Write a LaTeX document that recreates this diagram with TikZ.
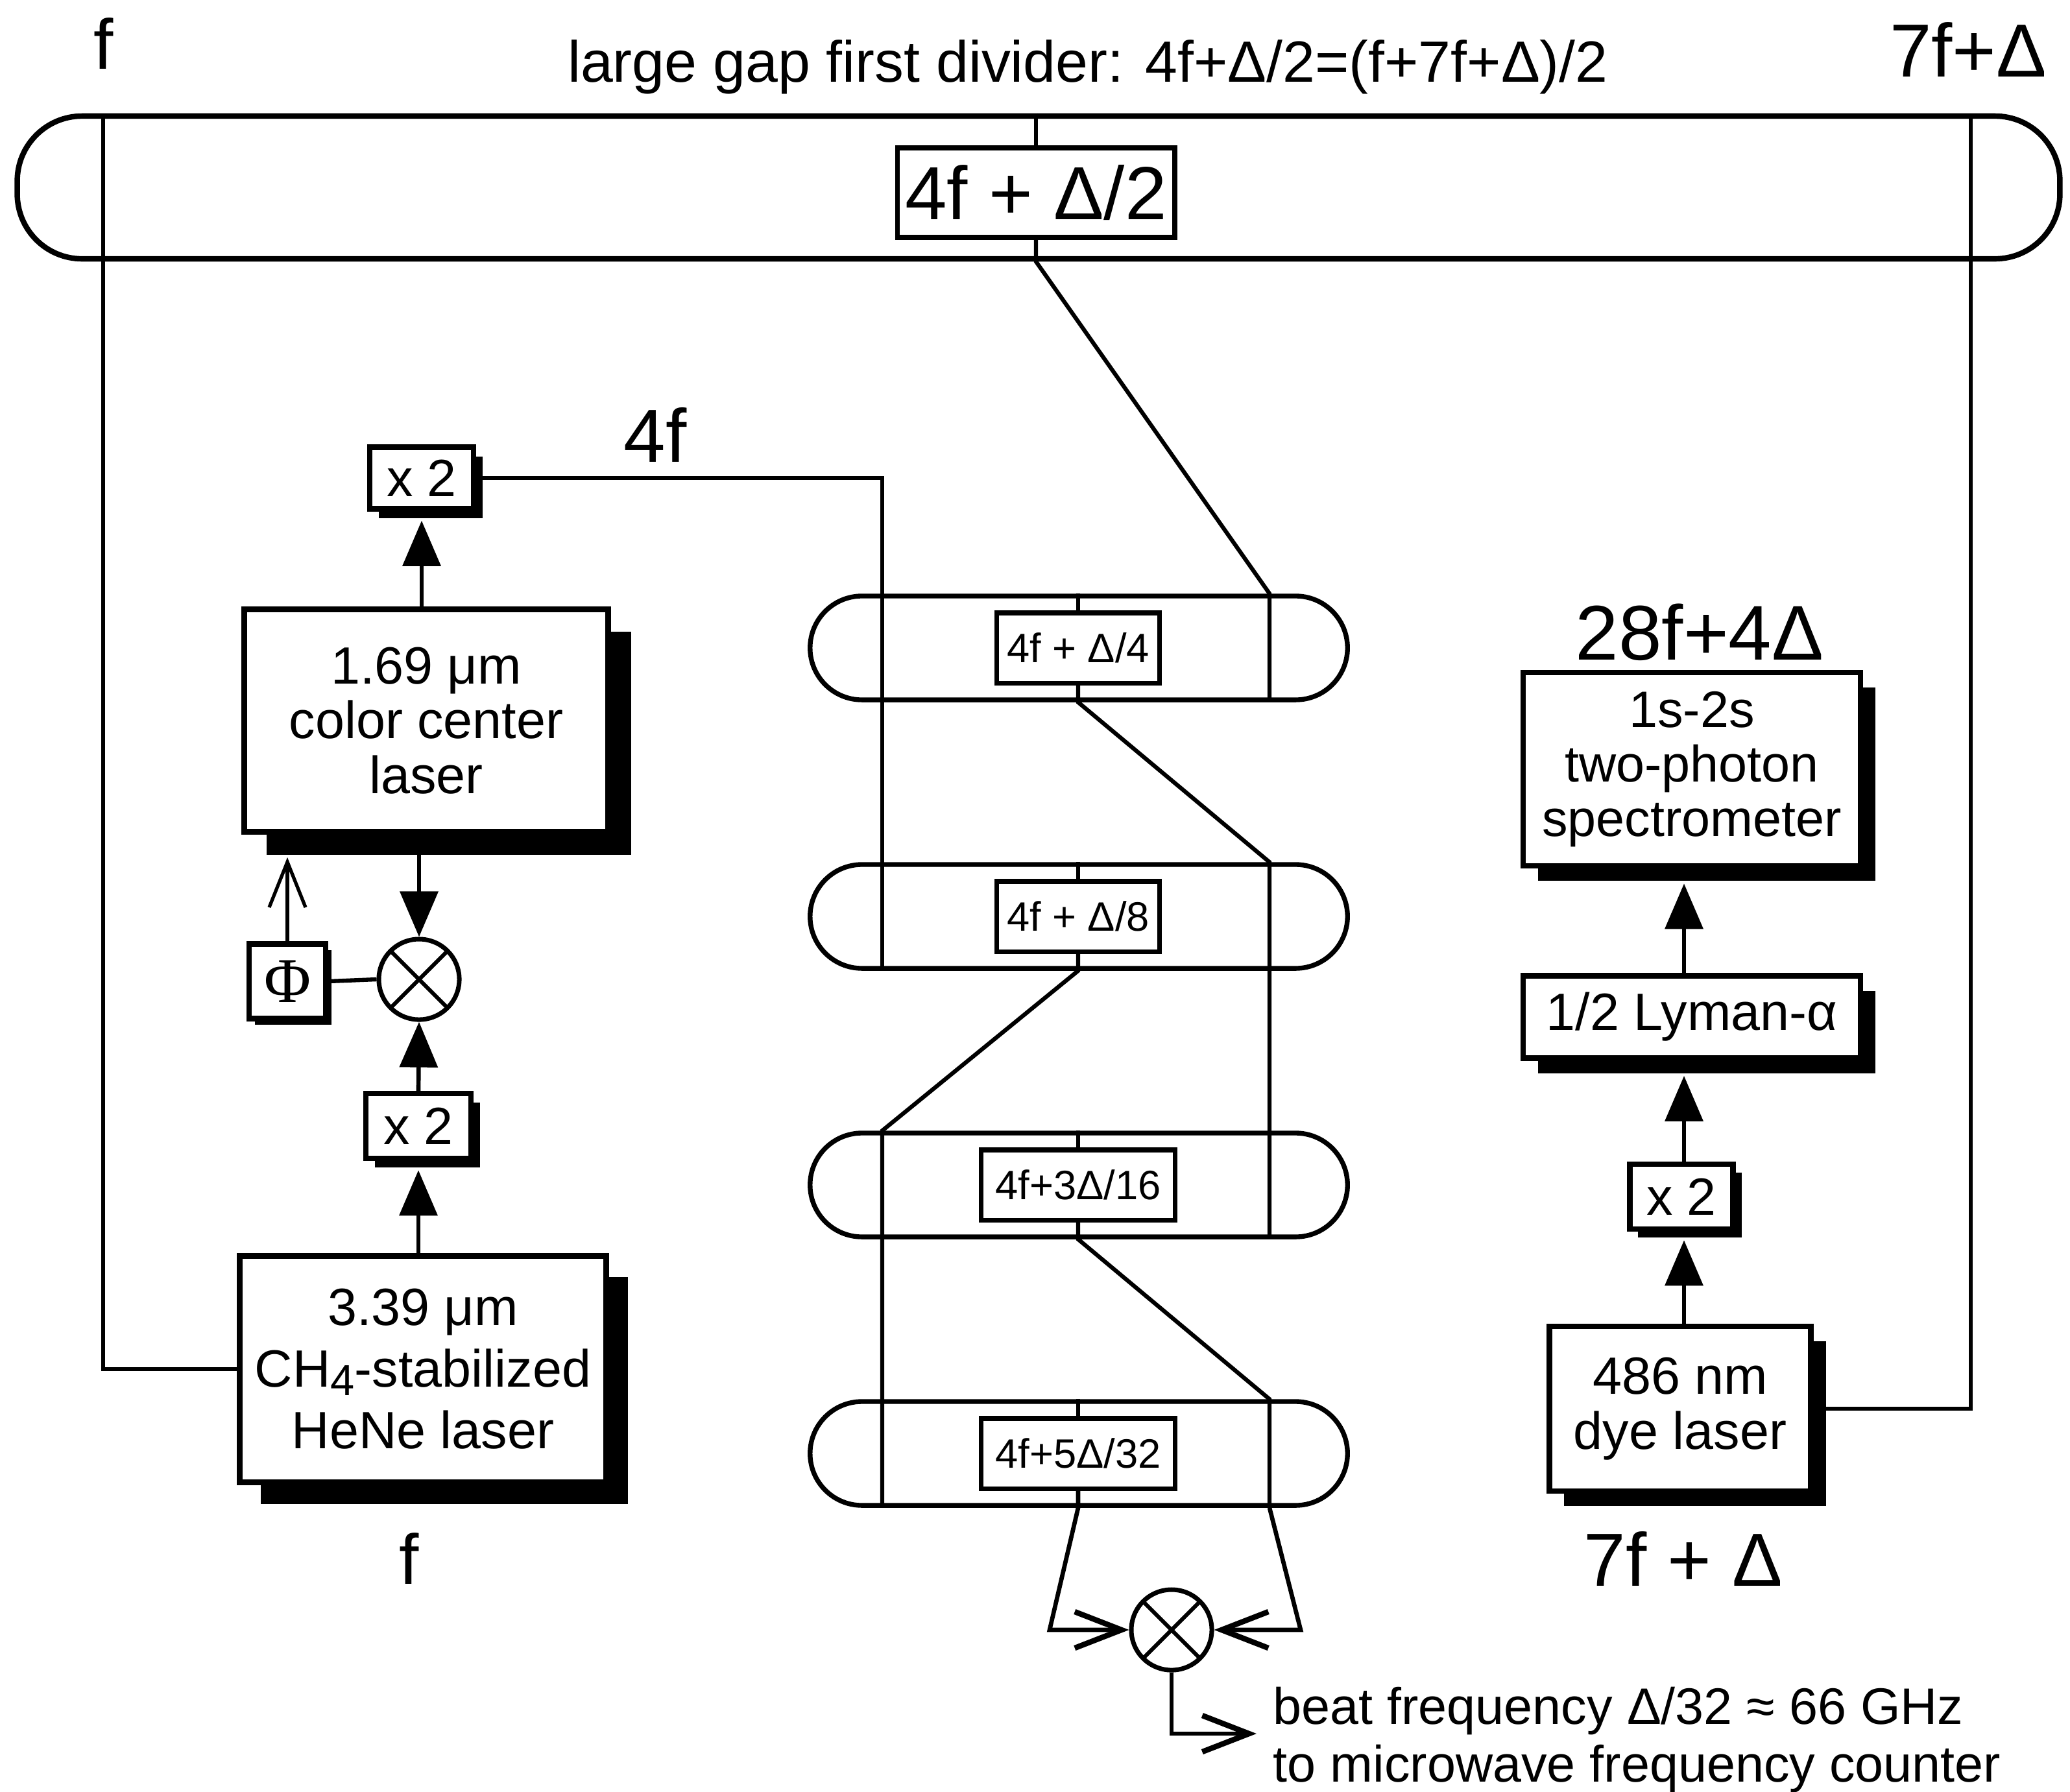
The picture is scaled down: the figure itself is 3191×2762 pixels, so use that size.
\documentclass[tikz,border=0pt]{standalone}
\usepackage{fontspec}
\setmainfont{Liberation Sans}
\newfontfamily\serifphi{Liberation Serif}
\usetikzlibrary{arrows.meta,shadows}
\begin{document}
\begin{tikzpicture}[x=0.01cm,y=-0.01cm,
  lw/.style={line width=1.8pt},
  thinln/.style={line width=1.5pt},
  lbox/.style={draw, line width=2.4pt, fill=white, inner sep=0pt, align=center, font=\fontsize{23}{24}\selectfont},
  shad/.style={drop shadow={shadow xshift=#1, shadow yshift=-#1, fill=black, opacity=1}},
  smallbox/.style={draw, line width=2pt, fill=white, inner sep=0pt, minimum height=1.08cm, font=\fontsize{18}{20}\selectfont},
  oval/.style={draw, line width=2.1pt, rounded corners=0.8cm, minimum width=8.28cm, minimum height=1.6cm, inner sep=0pt},
  lbl/.style={inner sep=0pt, font=\fontsize{33}{36}\selectfont},
  ttl/.style={inner sep=0pt, font=\fontsize{25.5}{28}\selectfont},
  txt/.style={inner sep=0pt, font=\fontsize{22.5}{25}\selectfont},
  tri/.style={line width=1.9pt, -{Triangle[length=0.7cm,width=0.58cm]}},
  barb/.style={line width=1.5pt, -{Straight Barb[length=0.7cm,width=0.56cm]}},
  barbtwo/.style={line width=1.9pt, -{Straight Barb[length=0.72cm,width=0.56cm,line width=2.4pt]}},
  mixer/.style={circle, draw, line width=2pt, fill=white, minimum size=1.24cm, inner sep=0pt,
    path picture={\draw[line width=1.7pt] (path picture bounding box.north west) -- (path picture bounding box.south east)
      (path picture bounding box.north east) -- (path picture bounding box.south west);}}
]
\fill[white] (0,0) rectangle (3191,2762);
\path[use as bounding box] (0,0) rectangle (3191,2762);

% top labels
\node[lbl, anchor=base, font=\fontsize{31}{34}\selectfont] (ftop) at (160,106) {f};
\node[lbl, anchor=base] (rtoplbl) at (3034,118) {7f+Δ};
\node[ttl, anchor=base] (title) at (1677,126) {large gap first divider: 4f+Δ/2=(f+7f+Δ)/2};

% top divider
\node[draw, line width=2.4pt, rounded corners=1cm, minimum width=31.47cm, minimum height=2.2cm, inner sep=0pt] (top) at (1601,289) {};
\node[draw, line width=2.2pt, fill=white, inner sep=0pt, minimum width=4.27cm, minimum height=1.38cm, font=\fontsize{33}{36}\selectfont] (big) at (1597,297) {4f + Δ/2};
\coordinate (fTop) at (159,179);
\coordinate (rTop) at (3038,179);
\coordinate (L) at (1360,0);
\coordinate (R) at (1957,0);

% middle dividers
\node[oval] (ov1) at (1663,999) {};
\node[oval] (ov2) at (1663,1413) {};
\node[oval] (ov3) at (1663,1827) {};
\node[oval] (ov4) at (1663,2241) {};
\node[smallbox, minimum width=2.5cm] (b4) at (1662,999) {4f + Δ/4};
\node[smallbox, minimum width=2.5cm] (b8) at (1662,1413) {4f + Δ/8};
\node[smallbox, minimum width=2.98cm] (b16) at (1662,1827) {4f+3Δ/16};
\node[smallbox, minimum width=2.98cm] (b32) at (1662,2241) {4f+5Δ/32};

% left column
\node[lbox, shad=0.14cm, minimum width=1.6cm, minimum height=0.95cm] (x2a) at (650,737) {x 2};
\node[lbox, shad=0.35cm, minimum width=5.61cm, minimum height=3.43cm] (cc) at (657,1111) {1.69 μm\\color center\\laser};
\node[mixer] (m1) at (646,1510) {};
\node[lbox, shad=0.09cm, minimum width=1.18cm, minimum height=1.15cm, font=\serifphi\fontsize{28}{30}\selectfont] (phi) at (443,1513) {Φ};
\node[lbox, shad=0.14cm, minimum width=1.62cm, minimum height=1.0cm] (x2b) at (645,1736) {x 2};
\node[lbox, shad=0.33cm, minimum width=5.65cm, minimum height=3.49cm, font=\fontsize{23}{27}\selectfont] (hene) at (652,2111) {3.39 μm\\CH\raisebox{-0.3ex}{\fontsize{19}{20}\selectfont 4}-stabilized\\HeNe laser};
\node[lbl, anchor=base, font=\fontsize{31}{34}\selectfont] (fbot) at (631,2442) {f};
\node[lbl, anchor=base] (l4f) at (1010,712) {4f};

\coordinate (x2ash) at ([yshift=-0.14cm]x2a.south);
\coordinate (x2bsh) at ([yshift=-0.14cm]x2b.south);
\coordinate (ccsh) at ([yshift=-0.35cm]cc.south);
\draw[tri] (cc.north -| x2a) -- (x2ash);
\draw[tri] (cc.south -| m1) -- (m1.north);
\draw[tri] (x2b.north) -- (m1.south);
\draw[tri] (hene.north -| x2b) -- (x2bsh);
\draw[barb] (phi.north) -- (phi.north |- ccsh);
\draw[lw] (phi.east) -- (m1.west);
\draw[thinln] (hene.west) -| (fTop);
\draw[lw] (x2a.east) -| (ov2.south -| L);

% middle connections
\draw[lw] (top.north -| big) -- (big.north);
\draw[lw] (big.south) -- (top.south -| big) -- (ov1.north -| R) -- (ov1.south -| R);
\draw[lw] (ov1.north -| b4) -- (b4.north);
\draw[lw] (b4.south) -- (ov1.south -| b4) -- (ov2.north -| R) -- (ov3.south -| R);
\draw[lw] (ov2.north -| b8) -- (b8.north);
\draw[lw] (b8.south) -- (ov2.south -| b8) -- (ov3.north -| L) -- (ov4.south -| L);
\draw[lw] (ov3.north -| b16) -- (b16.north);
\draw[lw] (b16.south) -- (ov3.south -| b16) -- (ov4.north -| R) -- (ov4.south -| R);
\draw[lw] (ov4.north -| b32) -- (b32.north);

% beat mixer
\node[mixer] (m2) at (1806,2513) {};
\coordinate (ml) at (1618,2513);
\coordinate (mr) at (2005,2513);
\coordinate (oe) at (1937,2673);
\draw[barbtwo] (b32.south) -- (ov4.south -| b32) -- (ml) -- (m2.west);
\draw[barbtwo] (ov4.south -| R) -- (mr) -- (m2.east);
\draw[barbtwo] (m2.south) |- (oe);
\node[txt, anchor=base west] (beat1) at (1962,2658) {beat frequency Δ/32 ≈ 66 GHz};
\node[txt, anchor=base west] (beat2) at (1962,2747) {to microwave frequency counter};

% right column
\node[lbl, anchor=base, font=\fontsize{34}{36}\selectfont] (l28) at (2620,1017) {28f+4Δ};
\node[lbox, shad=0.23cm, minimum width=5.2cm, minimum height=2.98cm, font=\fontsize{22.5}{24}\selectfont] (spec) at (2608,1186) {1s-2s\\two-photon\\spectrometer};
\node[lbox, shad=0.23cm, minimum width=5.2cm, minimum height=1.27cm] (lym) at (2608,1568) {1/2 Lyman-α};
\node[lbox, shad=0.13cm, minimum width=1.59cm, minimum height=1.0cm] (x2c) at (2592,1845) {x 2};
\node[lbox, shad=0.23cm, minimum width=4.03cm, minimum height=2.54cm] (dye) at (2590,2172) {486 nm\\dye laser};
\node[lbl, anchor=base] (l7f) at (2595,2445) {7f + Δ};
\coordinate (RA) at (2596,0);
\coordinate (specsh) at ([yshift=-0.23cm]spec.south);
\coordinate (lymsh) at ([yshift=-0.23cm]lym.south);
\coordinate (x2csh) at ([yshift=-0.13cm]x2c.south);
\draw[tri] (lym.north -| RA) -- (specsh -| RA);
\draw[tri] (x2c.north -| RA) -- (lymsh -| RA);
\draw[tri] (dye.north -| RA) -- (x2csh -| RA);
\draw[thinln] (dye.east) -| (rTop);
\end{tikzpicture}
\end{document}
